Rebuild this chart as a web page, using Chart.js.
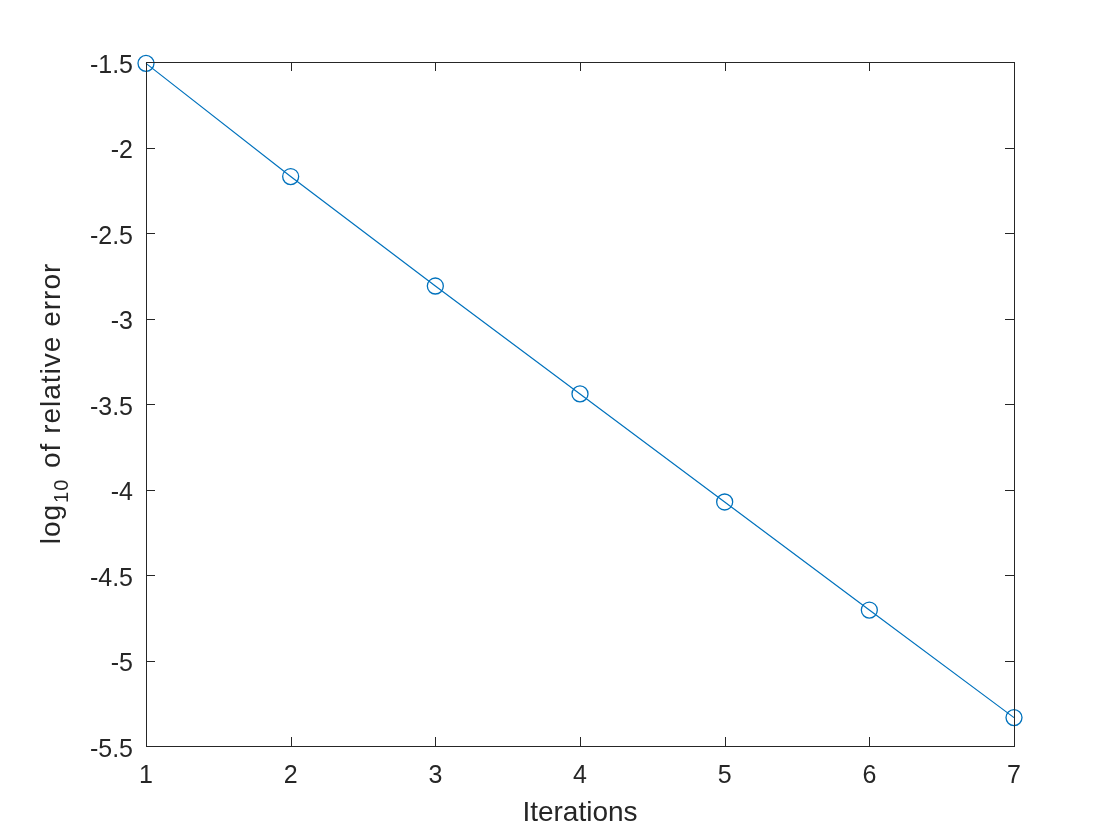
<!DOCTYPE html>
<html>
<head>
<meta charset="utf-8">
<script src="https://cdn.jsdelivr.net/npm/chart.js@4/dist/chart.umd.min.js"></script>
<style>
  html, body { margin: 0; padding: 0; background: #ffffff; }
  #wrap { width: 1120px; height: 840px; }
</style>
</head>
<body>
<div id="wrap"><canvas id="c" width="1120" height="840"></canvas></div>
<script>
// ---- data ----
const iterations = [1, 2, 3, 4, 5, 6, 7];
const logError = [-1.508, -2.170, -2.810, -3.441, -4.073, -4.705, -5.334];
const xTickLabels = ['1', '2', '3', '4', '5', '6', '7'];
const yTickValues = [-5.5, -5, -4.5, -4, -3.5, -3, -2.5, -2, -1.5];
const yTickLabels = ['-5.5', '-5', '-4.5', '-4', '-3.5', '-3', '-2.5', '-2', '-1.5'];
const xTitle = 'Iterations';
const yTitleMain = 'log';
const yTitleSub = '10';
const yTitleRest = ' of relative error';

const AXIS = '#262626';
const BLUE = '#0072BD';
const FONT = "'Liberation Sans', Arial, Helvetica, sans-serif";

const boxPlugin = {
  id: 'matlabBox',
  afterDatasetsDraw(chart) {
    const {ctx, chartArea: a, scales} = chart;
    ctx.save();
    ctx.strokeStyle = AXIS;
    ctx.lineWidth = 1;
    ctx.strokeRect(Math.round(a.left) + 0.5, Math.round(a.top) + 0.5,
                   Math.round(a.right - a.left), Math.round(a.bottom - a.top));
    const TL = 9;
    ctx.beginPath();
    scales.x.ticks.forEach(t => {
      const px = Math.round(scales.x.getPixelForValue(t.value)) + 0.5;
      ctx.moveTo(px, a.bottom); ctx.lineTo(px, a.bottom - TL);
      ctx.moveTo(px, a.top); ctx.lineTo(px, a.top + TL);
    });
    scales.y.ticks.forEach(t => {
      const py = Math.round(scales.y.getPixelForValue(t.value)) + 0.5;
      ctx.moveTo(a.left, py); ctx.lineTo(a.left + TL, py);
      ctx.moveTo(a.right, py); ctx.lineTo(a.right - TL, py);
    });
    ctx.stroke();
    ctx.restore();
  },
  afterDraw(chart) {
    const {ctx, chartArea: a} = chart;
    ctx.save();
    ctx.fillStyle = AXIS;
    ctx.textBaseline = 'alphabetic';
    ctx.textAlign = 'left';
    if ('letterSpacing' in ctx) ctx.letterSpacing = '1px';
    const mainFont = '28px ' + FONT;
    const subFont = '20px ' + FONT;
    ctx.font = mainFont;
    const w1 = ctx.measureText(yTitleMain).width;
    const w3 = ctx.measureText(yTitleRest).width;
    ctx.font = subFont;
    const w2 = ctx.measureText(yTitleSub).width + 2;
    const total = w1 + w2 + w3;
    ctx.translate(60, (a.top + a.bottom) / 2);
    ctx.rotate(-Math.PI / 2);
    let x = -total / 2;
    ctx.font = mainFont;
    ctx.fillText(yTitleMain, x, 0);
    x += w1 + 1;
    ctx.font = subFont;
    ctx.fillText(yTitleSub, x, 8);
    x += w2;
    ctx.font = mainFont;
    ctx.fillText(yTitleRest, x, 0);
    ctx.restore();
  }
};

new Chart(document.getElementById('c'), {
  type: 'line',
  data: {
    datasets: [{
      data: iterations.map((v, i) => ({x: v, y: logError[i]})),
      borderColor: BLUE,
      borderWidth: 1.2,
      backgroundColor: 'rgba(0,0,0,0)',
      pointStyle: 'circle',
      pointRadius: 8,
      pointHoverRadius: 8,
      pointBorderWidth: 1.3,
      pointBorderColor: BLUE,
      pointBackgroundColor: 'rgba(0,0,0,0)',
      tension: 0,
      fill: false,
      clip: false
    }]
  },
  options: {
    responsive: false,
    animation: false,
    devicePixelRatio: 1,
    events: [],
    layout: { padding: { top: 62, right: 106, left: 0, bottom: 0 } },
    plugins: { legend: { display: false }, tooltip: { enabled: false }, title: { display: false } },
    scales: {
      x: {
        type: 'linear',
        min: 1, max: 7,
        afterBuildTicks(scale) { scale.ticks = iterations.map(v => ({value: v})); },
        afterFit(scale) { scale.height = 94; scale.paddingLeft = 0; scale.paddingRight = 0; },
        grid: { display: false, drawTicks: false },
        border: { display: false },
        ticks: {
          color: AXIS,
          font: { family: FONT, size: 25 },
          padding: 15,
          maxRotation: 0,
          callback: (v) => xTickLabels[iterations.indexOf(v)] ?? ''
        },
        title: {
          display: true,
          text: xTitle,
          color: AXIS,
          font: { family: FONT, size: 28 },
          padding: { top: 0, bottom: 10 }
        }
      },
      y: {
        type: 'linear',
        min: -5.5, max: -1.5,
        afterBuildTicks(scale) { scale.ticks = yTickValues.map(v => ({value: v})); },
        afterFit(scale) { scale.width = 146; scale.paddingTop = 0; scale.paddingBottom = 0; },
        grid: { display: false, drawTicks: false },
        border: { display: false },
        ticks: {
          color: AXIS,
          font: { family: FONT, size: 25 },
          padding: 13,
          labelOffset: 4,
          callback: (v) => { const i = yTickValues.findIndex(t => Math.abs(t - v) < 1e-9); return i >= 0 ? yTickLabels[i] : ''; }
        }
      }
    }
  },
  plugins: [boxPlugin]
});
</script>
</body>
</html>
